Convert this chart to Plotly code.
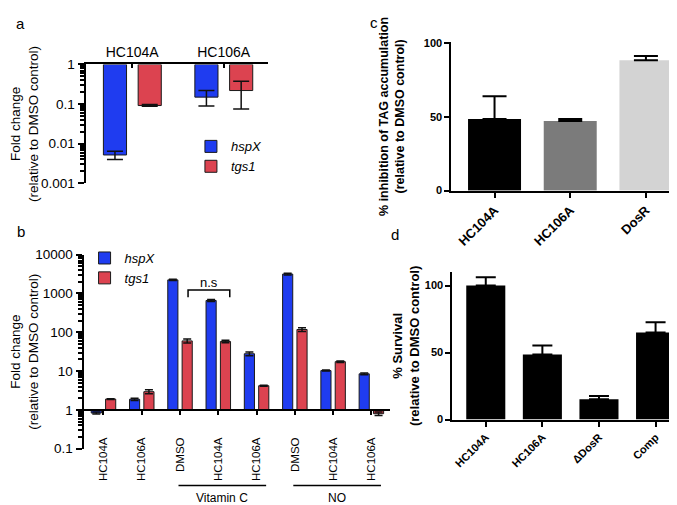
import plotly.graph_objects as go

W, H = 677, 505
FONT = "Liberation Sans, Arial, Helvetica, sans-serif"
BLUE = "#1f3cf0"
RED = "#dc4350"

# ---------------- data ----------------
# panel a
a_cats = ["HC104A", "HC106A"]
a_hspx = [0.0052, 0.15]
a_hspx_plus = [0.0013, 0.07]
a_hspx_minus = [0.0012, 0.06]
a_tgs1 = [0.092, 0.22]
a_tgs1_plus = [0.006, 0.16]
a_tgs1_minus = [0.004, 0.145]
a_tickvals = [0.001, 0.01, 0.1, 1]
a_ticktext = ["0.001", "0.01", "0.1", "1"]

# panel b
b_labels = ["HC104A", "HC106A", "DMSO", "HC104A", "HC106A", "DMSO", "HC104A", "HC106A"]
b_hspx = [0.83, 1.88, 2240, 660, 28, 3160, 10.3, 8.5]
b_hspx_err = [0.05, 0.12, 80, 35, 3, 150, 0.3, 0.4]
b_tgs1 = [1.9, 2.95, 60, 58, 4.2, 118, 17.5, 0.8]
b_tgs1_err = [0.05, 0.35, 7, 4, 0.15, 13, 0.8, 0.08]
b_tickvals = [0.1, 1, 10, 100, 1000, 10000]
b_ticktext = ["0.1", "1", "10", "100", "1000", "10000"]
b_groups = [("Vitamin C", 2, 4), ("NO", 5, 7)]

# panel c
c_cats = ["HC104A", "HC106A", "DosR"]
c_vals = [48.5, 47.2, 88.3]
c_err = [15.5, 1.3, 3.0]
c_colors = ["#000000", "#7b7b7b", "#d3d3d3"]

# panel d
d_cats = ["HC104A", "HC106A", "ΔDosR", "Comp"]
d_vals = [100, 48.5, 15.2, 65]
d_err = [6.2, 6.8, 2.4, 7.7]


def fx(p):
    return p / W


def fy(p):
    return 1 - p / H


def log_minor(lo, hi):
    return [m * 10 ** e for e in range(lo, hi) for m in range(2, 10)]


fig = go.Figure()

# ---------------- panel a ----------------
fig.add_trace(go.Bar(
    x=a_cats, y=[v - 1 for v in a_hspx], base=1, offset=-0.315, width=0.253,
    name="<i>hspX</i>", legend="legend", xaxis="x", yaxis="y",
    marker=dict(color=BLUE, line=dict(color="#1a1a1a", width=1)),
    error_y=dict(type="data", symmetric=False, array=a_hspx_plus, arrayminus=a_hspx_minus,
                 color="#111111", thickness=1.5, width=8)))
fig.add_trace(go.Bar(
    x=a_cats, y=[v - 1 for v in a_tgs1], base=1, offset=0.065, width=0.253,
    name="<i>tgs1</i>", legend="legend", xaxis="x", yaxis="y",
    marker=dict(color=RED, line=dict(color="#1a1a1a", width=1)),
    error_y=dict(type="data", symmetric=False, array=a_tgs1_plus, arrayminus=a_tgs1_minus,
                 color="#111111", thickness=1.5, width=8)))

# ---------------- panel b ----------------
b_x = list(range(len(b_labels)))
fig.add_trace(go.Bar(
    x=b_x, y=[v - 1 for v in b_hspx], base=1, offset=-0.32, width=0.265,
    name="<i>hspX</i>", legend="legend2", xaxis="x2", yaxis="y2",
    marker=dict(color=BLUE, line=dict(color="#1a1a1a", width=1)),
    error_y=dict(type="data", array=b_hspx_err, color="#111111", thickness=1.5, width=4)))
fig.add_trace(go.Bar(
    x=b_x, y=[v - 1 for v in b_tgs1], base=1, offset=0.055, width=0.265,
    name="<i>tgs1</i>", legend="legend2", xaxis="x2", yaxis="y2",
    marker=dict(color=RED, line=dict(color="#1a1a1a", width=1)),
    error_y=dict(type="data", array=b_tgs1_err, color="#111111", thickness=1.5, width=4)))

# ---------------- panel c ----------------
fig.add_trace(go.Bar(
    x=c_cats, y=c_vals, width=0.7, showlegend=False, xaxis="x3", yaxis="y3",
    marker=dict(color=c_colors, line=dict(width=0)),
    error_y=dict(type="data", symmetric=False, array=c_err, arrayminus=[0] * len(c_err),
                 color="#000000", thickness=2, width=12)))

# ---------------- panel d ----------------
fig.add_trace(go.Bar(
    x=d_cats, y=d_vals, width=0.69, showlegend=False, xaxis="x4", yaxis="y4",
    marker=dict(color="#000000", line=dict(width=0)),
    error_y=dict(type="data", symmetric=False, array=d_err, arrayminus=[0] * len(d_err),
                 color="#000000", thickness=2, width=10)))

axis_common = dict(showline=True, linecolor="black", linewidth=2, showgrid=False,
                   zeroline=False, tickcolor="black", tickwidth=2)


def minor_log(lo, hi):
    return dict(tickmode="array", tickvals=log_minor(lo, hi), ticks="outside",
                ticklen=4, tickwidth=1.5, tickcolor="black", showgrid=False)


bold = dict(family=FONT, size=10.5, color="black", weight="bold")

fig.update_layout(
    width=W, height=H, margin=dict(l=0, r=0, t=0, b=0),
    paper_bgcolor="white", plot_bgcolor="white",
    font=dict(family=FONT, color="black", size=13),
    barmode="overlay",
    xaxis=dict(domain=[fx(74), fx(258)], anchor="y", side="top", type="category",
               range=[-0.51, 1.49], ticks="inside", ticklen=4,
               tickfont=dict(size=14), **axis_common),
    yaxis=dict(domain=[fy(173.5), fy(51)], anchor="x", type="log", range=[-3, 0],
               tickmode="array", tickvals=a_tickvals, ticktext=a_ticktext,
               ticks="outside", ticklen=6, tickfont=dict(size=13.5),
               minor=minor_log(-3, 0),
               title=dict(text="Fold change<br>(relative to DMSO control)",
                          font=dict(size=13.5), standoff=0),
               **axis_common),
    xaxis2=dict(domain=[fx(72), fx(380)], anchor="free", position=fy(407),
                range=[-0.52, 7.48], tickmode="array", tickvals=b_x, ticktext=b_labels,
                tickangle=-90, ticks="outside", ticklen=4, ticklabelstandoff=18,
                tickfont=dict(size=11.5), **axis_common),
    yaxis2=dict(domain=[fy(447), fy(247)], anchor="x2", type="log", range=[-1, 4],
                tickmode="array", tickvals=b_tickvals, ticktext=b_ticktext,
                ticks="outside", ticklen=6, tickfont=dict(size=13.5),
                minor=minor_log(-1, 4),
                title=dict(text="Fold change<br>(relative to DMSO control)",
                           font=dict(size=13.5), standoff=0),
                **axis_common),
    xaxis3=dict(domain=[fx(442), fx(675)], anchor="y3", type="category",
                range=[-0.57, 2.49], tickangle=-45, ticks="outside", ticklen=5,
                tickfont=dict(bold, size=13), **axis_common),
    yaxis3=dict(domain=[fy(181), fy(28)], anchor="x3", range=[0, 100.6],
                tickmode="array", tickvals=[0, 50, 100], ticks="outside", ticklen=5,
                tickfont=dict(bold, size=11),
                title=dict(text="% inhibition of TAG accumulation<br>(relative to DMSO control)",
                           font=dict(bold, size=12.5), standoff=16),
                **axis_common),
    xaxis4=dict(domain=[fx(443), 1.0], anchor="y4", type="category",
                range=[-0.59, 3.52], tickangle=-45, ticks="outside", ticklen=5,
                tickfont=dict(bold, size=11), **axis_common),
    yaxis4=dict(domain=[fy(417), fy(265)], anchor="x4", range=[0, 110],
                tickmode="array", tickvals=[0, 50, 100], ticks="outside", ticklen=5,
                tickfont=dict(bold, size=11),
                title=dict(text="% Survival<br>(relative to DMSO control)",
                           font=dict(bold, size=13), standoff=2),
                **axis_common),
    legend=dict(x=fx(180), y=fy(120), xanchor="left", yanchor="top",
                bgcolor="rgba(0,0,0,0)", font=dict(size=13), tracegroupgap=0,
                itemwidth=30),
    legend2=dict(x=fx(73), y=fy(235), xanchor="left", yanchor="top",
                 bgcolor="rgba(0,0,0,0)", font=dict(size=13), tracegroupgap=0,
                 itemwidth=30),
)

annotations = []
for letter, px, py in [("a", 9, 9), ("b", 9, 223), ("c", 364, 8), ("d", 385, 226)]:
    annotations.append(dict(text=letter, x=fx(px), y=fy(py), xref="paper", yref="paper",
                            showarrow=False, xanchor="center", yanchor="middle",
                            font=dict(size=15)))

shapes = []
for name, g0, g1 in b_groups:
    shapes.append(dict(type="line", xref="x2", yref="paper", x0=g0 - 0.04, x1=g1 + 0.25,
                       y0=fy(485), y1=fy(485), line=dict(color="black", width=1.5)))
    annotations.append(dict(text=name, x=(g0 + g1 + 0.21) / 2, y=fy(498), xref="x2",
                            yref="paper", showarrow=False, xanchor="center",
                            yanchor="middle", font=dict(size=12)))

# n.s bracket between DMSO and HC104A (Vitamin C) tgs1 bars
bt, bb = fy(283.5), fy(291)
shapes.append(dict(type="path", xref="x2", yref="paper",
                   path=f"M 2.21,{bb} L 2.21,{bt} L 3.3,{bt} L 3.3,{bb}",
                   line=dict(color="black", width=1.5)))
annotations.append(dict(text="n.s", x=2.75, y=fy(276), xref="x2", yref="paper",
                        showarrow=False, xanchor="center", yanchor="middle",
                        font=dict(size=13)))

fig.update_layout(annotations=annotations, shapes=shapes)

fig.write_html("out.html")
